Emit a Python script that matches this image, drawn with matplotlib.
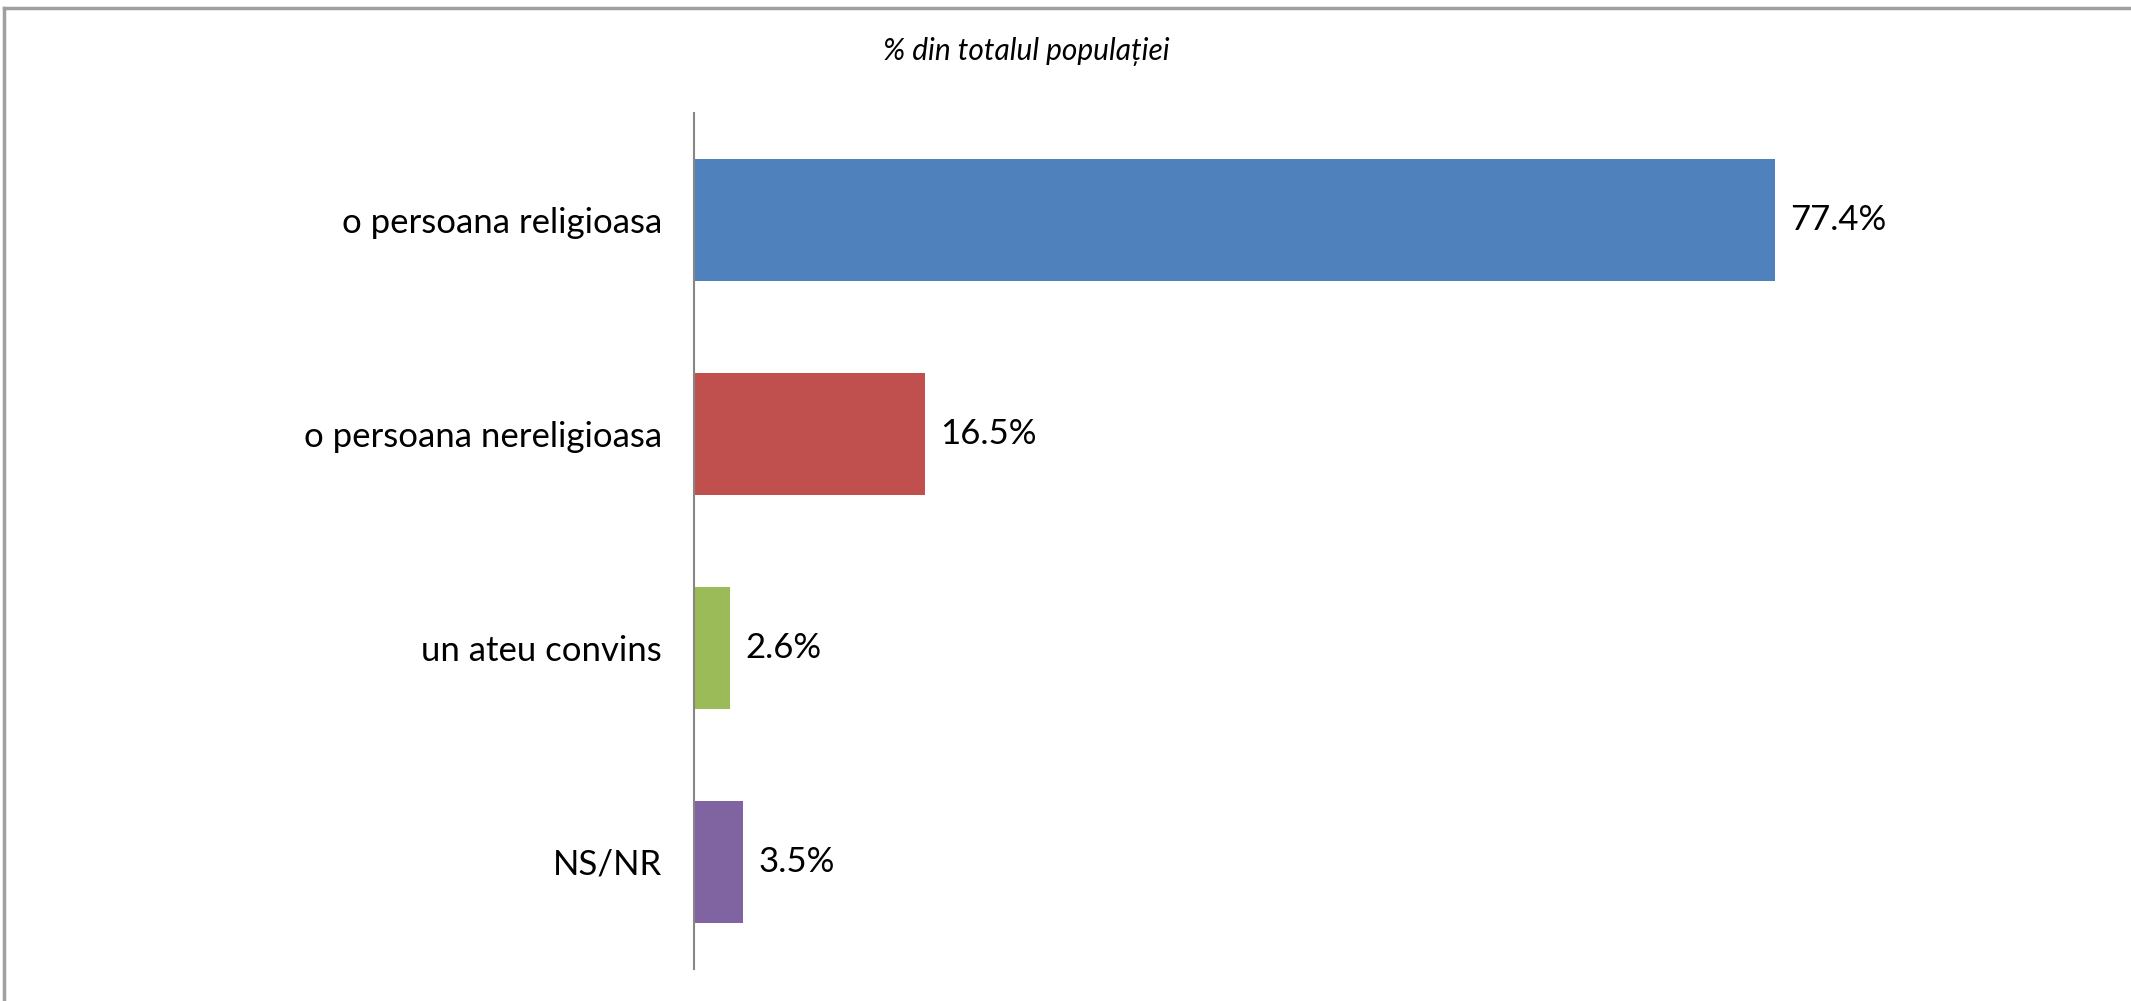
import matplotlib
matplotlib.use("Agg")
import matplotlib.pyplot as plt
from matplotlib.lines import Line2D

categories = ["o persoana religioasa", "o persoana nereligioasa", "un ateu convins", "NS/NR"]
values = [77.4, 16.5, 2.6, 3.5]
colors = ["#4F81BD", "#C0504D", "#9BBB59", "#8064A2"]
title = "% din totalul populației"

W, H = 2131, 1001
fig = plt.figure(figsize=(W / 100, H / 100), dpi=100)

# plot area in pixels: axis at x=694, y from 113 to 969
x0, y_top, y_bot = 694, 113, 969
px_per_unit = 13.97
xmax = 100
ax = fig.add_axes([x0 / W, 1 - y_bot / H, xmax * px_per_unit / W, (y_bot - y_top) / H])

pos = list(range(len(categories)))
ax.barh(pos, values, height=0.57, color=colors)
ax.set_ylim(len(categories) - 0.5, -0.5)
ax.set_xlim(0, xmax)

for p, v in zip(pos, values):
    ax.annotate(f"{v:.1f}%", (v, p), xytext=(11, 0), textcoords="offset points",
                va="center", ha="left", fontsize=25, family="Lato")

ax.set_yticks(pos)
ax.set_yticklabels(categories, fontsize=25, family="Lato")
ax.tick_params(axis="y", length=0, pad=23)
ax.set_xticks([])
for s in ["top", "right", "bottom"]:
    ax.spines[s].set_visible(False)
ax.spines["left"].set_color("#868686")
ax.spines["left"].set_linewidth(1.5)

fig.text(1026 / W, 1 - 52 / H, title, ha="center", va="center",
         fontsize=21.5, style="italic", family="Lato")

# outer chart frame (top and left edges visible)
fig.add_artist(Line2D([4 / W, 1], [1 - 8 / H, 1 - 8 / H], color="#A0A0A0", lw=2.5))
fig.add_artist(Line2D([4 / W, 4 / W], [0, 1 - 8 / H], color="#A0A0A0", lw=2.5))

fig.savefig("out.png", dpi=100)
